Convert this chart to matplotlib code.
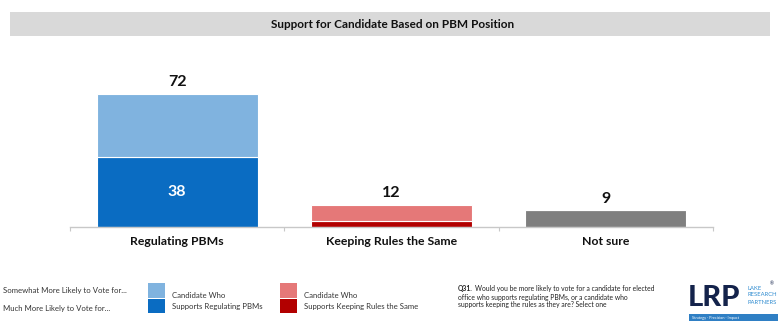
import matplotlib.pyplot as plt
from matplotlib.patches import Rectangle

plt.rcParams['font.family'] = ['Lato', 'DejaVu Sans']

# Survey results (percent)
categories = ['Regulating PBMs', 'Keeping Rules the Same', 'Not sure']
much_more = [38, 3, 9]        # strong support (bottom segment)
somewhat_more = [34, 9, 0]    # soft support (top segment)
totals = [72, 12, 9]

dark_colors = ['#0A6CC2', '#B20000', '#7F7F7F']
light_colors = ['#80B3DF', '#E57878', '#7F7F7F']

legend_rows = ['Somewhat More Likely to Vote for...', 'Much More Likely to Vote for...']
legend_blue = ['Candidate Who', 'Supports Regulating PBMs']
legend_red = ['Candidate Who', 'Supports Keeping Rules the Same']

W, H = 778, 322
fig = plt.figure(figsize=(W / 100, H / 100), dpi=100)


def fx(px):
    return px / W


def fy(py):
    return 1 - py / H


# title banner
fig.patches.append(Rectangle((fx(10), fy(36)), fx(760), 24 / H, transform=fig.transFigure,
                             facecolor='#D9D9D9', edgecolor='none'))
fig.text(fx(393), fy(24), 'Support for Candidate Based on PBM Position', ha='center', va='center',
         fontsize=8.5, fontweight='bold', color='#111111')

# main chart: baseline at y=227, 1.85 px per point
ax = fig.add_axes([fx(70), fy(227), fx(643), 148 / H])
x = range(len(categories))
ax.bar(x, much_more, width=0.75, color=dark_colors, edgecolor='white', linewidth=0.8)
ax.bar(x, somewhat_more, width=0.75, bottom=much_more, color=light_colors, edgecolor='white', linewidth=0.8)
ax.set_xlim(-0.5, 2.5)
ax.set_ylim(0, 80)

for i, t in enumerate(totals):
    ax.text(i, t + 2.5, str(t), ha='center', va='bottom', fontsize=11.5, fontweight='bold', color='#111111')
ax.text(0, much_more[0] / 2, str(much_more[0]), ha='center', va='center', fontsize=11.5,
        fontweight='bold', color='white')

for s in ['top', 'right', 'left']:
    ax.spines[s].set_visible(False)
ax.spines['bottom'].set_color('#C8C8C8')
ax.spines['bottom'].set_linewidth(1.0)
ax.set_yticks([])
ax.set_xticks([-0.5, 0.5, 1.5, 2.5])
ax.set_xticklabels([])
ax.tick_params(axis='x', length=3, color='#C8C8C8')
for i, c in enumerate(categories):
    ax.text(i, -8, c, ha='center', va='center', fontsize=8.8, fontweight='bold', color='#111111')

# legend
fs = 5.6
fig.text(fx(3), fy(290), legend_rows[0], fontsize=fs, va='center', color='#333333')
fig.text(fx(3), fy(308), legend_rows[1], fontsize=fs, va='center', color='#333333')
for x0, cols, labels in [(148, light_colors[:1] + dark_colors[:1], legend_blue),
                         (280, light_colors[1:2] + dark_colors[1:2], legend_red)]:
    fig.patches.append(Rectangle((fx(x0), fy(298)), fx(17), 15 / H, transform=fig.transFigure,
                                 facecolor=cols[0], edgecolor='none'))
    fig.patches.append(Rectangle((fx(x0), fy(313)), fx(17), 14 / H, transform=fig.transFigure,
                                 facecolor=cols[1], edgecolor='none'))
    fig.text(fx(x0 + 24), fy(295), labels[0], fontsize=fs, va='center', color='#333333')
    fig.text(fx(x0 + 24), fy(307), labels[1], fontsize=fs, va='center', color='#333333')

# question wording
qs = 4.9
fig.text(fx(458), fy(289), 'Q31.', fontsize=qs, va='center', fontweight='bold', color='#222222')
fig.text(fx(475), fy(289), 'Would you be more likely to vote for a candidate for elected',
         fontsize=qs, va='center', color='#222222')
fig.text(fx(458), fy(297), 'office who supports regulating PBMs, or a candidate who',
         fontsize=qs, va='center', color='#222222')
fig.text(fx(458), fy(305), 'supports keeping the rules as they are? Select one',
         fontsize=qs, va='center', color='#222222')

# LRP logo
fig.text(fx(688), fy(298), 'LRP', fontsize=21, fontweight='black', va='center', color='#14234B')
fig.text(fx(748), fy(288), 'LAKE', fontsize=4.2, va='center', color='#2E8BD0')
fig.text(fx(748), fy(295), 'RESEARCH', fontsize=4.2, va='center', color='#2E8BD0')
fig.text(fx(748), fy(302), 'PARTNERS', fontsize=4.2, va='center', color='#2E8BD0')
fig.text(fx(770), fy(284), '®', fontsize=3.5, va='center', color='#14234B')
fig.patches.append(Rectangle((fx(689), fy(321)), fx(89), 7 / H, transform=fig.transFigure,
                             facecolor='#2F7FC4', edgecolor='none'))
fig.text(fx(692), fy(317.5), 'Strategy · Precision · Impact', fontsize=2.8, va='center', color='white')

fig.savefig('out.png', dpi=100)
